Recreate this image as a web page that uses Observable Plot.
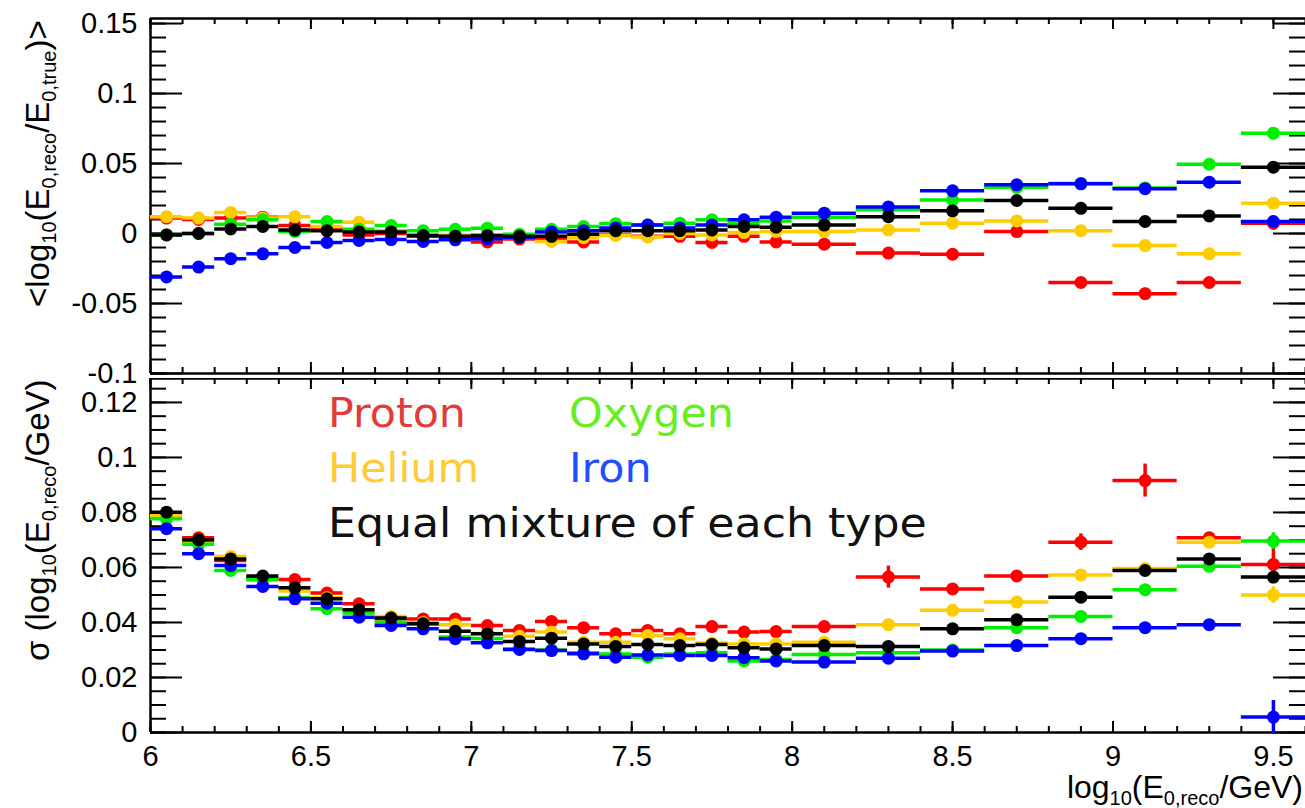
<!DOCTYPE html>
<html><head><meta charset="utf-8">
<script src="https://cdn.jsdelivr.net/npm/d3@7"></script>
<script src="https://cdn.jsdelivr.net/npm/@observablehq/plot@0.6"></script>
<style>
html,body{margin:0;padding:0;background:#fff;overflow:hidden}
#wrap{position:relative;width:1305px;height:808px;font-family:"Liberation Sans",Arial,sans-serif;color:#000}
.abs{position:absolute}
.rot{position:absolute;transform:rotate(-90deg);transform-origin:left top;white-space:nowrap;font-size:33px;line-height:1;font-family:"Liberation Sans",Arial,sans-serif}
.sub{font-size:20px;vertical-align:-7px;line-height:0}
.leg{position:absolute;font-family:"DejaVu Sans",sans-serif;font-size:40px;line-height:1;white-space:nowrap;transform-origin:left top}
.xl{position:absolute;right:2px;top:771px;font-size:32px;line-height:1;white-space:nowrap}
</style></head><body><div id="wrap"></div><script>
// ---- data ----
const binCenters = [6.05,6.15,6.25,6.35,6.45,6.55,6.65,6.75,6.85,6.95,7.05,7.15,7.25,7.35,7.45,7.55,7.65,7.75,7.85,7.95,8.1,8.3,8.5,8.7,8.9,9.1,9.3,9.5];
const binHalfWidths = [0.05,0.05,0.05,0.05,0.05,0.05,0.05,0.05,0.05,0.05,0.05,0.05,0.05,0.05,0.05,0.05,0.05,0.05,0.05,0.05,0.1,0.1,0.1,0.1,0.1,0.1,0.1,0.1];
const seriesNames = ["Proton","Helium","Oxygen","Iron","Mixture"];
const seriesColors = ["#ff0000","#ffcc00","#00ee00","#0000ff","#000000"];

const biasProton  = [0.011,0.010,0.011,0.0117,0.0057,0.004,-0.001,0.0,-0.002,-0.003,-0.006,-0.004,-0.004,-0.006,-0.001,-0.002,-0.002,-0.0064,-0.002,-0.006,-0.0076,-0.014,-0.0148,0.0014,-0.035,-0.043,-0.035,0.0074];
const biasHelium  = [0.012,0.011,0.015,0.011,0.012,0.005,0.008,0.002,-0.001,-0.001,-0.001,-0.003,-0.0057,-0.003,-0.0014,-0.0024,0.0,-0.001,0.0007,0.0014,0.0014,0.0026,0.0074,0.009,0.002,-0.0086,-0.0145,0.0217];
const biasOxygen  = [-0.001,0.0,0.0067,0.0098,0.0014,0.0086,0.003,0.0057,0.002,0.003,0.0038,-0.0005,0.003,0.005,0.007,0.006,0.0074,0.0098,0.0074,0.009,0.0117,0.017,0.024,0.033,0.0358,0.0325,0.0495,0.0717];
const biasIron    = [-0.031,-0.024,-0.018,-0.0145,-0.010,-0.0064,-0.005,-0.0043,-0.0057,-0.0045,-0.0038,-0.003,0.001,0.002,0.004,0.006,0.004,0.006,0.0098,0.0117,0.0145,0.019,0.0305,0.0348,0.0355,0.032,0.0367,0.0086];
const biasMixture = [-0.001,0.0,0.0033,0.005,0.0026,0.002,0.001,0.001,-0.0014,-0.002,-0.0014,-0.002,-0.002,-0.0005,0.002,0.002,0.002,0.0026,0.005,0.0045,0.006,0.012,0.0162,0.0236,0.018,0.0086,0.0126,0.0474];

const sigmaProton  = [0.0795,0.0708,0.0625,0.056,0.0556,0.0507,0.0468,0.0414,0.0413,0.0413,0.0389,0.0371,0.0404,0.0381,0.0359,0.0371,0.0359,0.0385,0.0365,0.0367,0.0385,0.0565,0.0522,0.0569,0.0692,0.0916,0.0708,0.0611];
const sigmaHelium  = [0.0789,0.0686,0.064,0.0555,0.0514,0.049,0.0445,0.0422,0.040,0.0392,0.036,0.035,0.0365,0.0328,0.0328,0.0353,0.0341,0.0325,0.0322,0.0322,0.0328,0.0392,0.0444,0.0474,0.0573,0.0596,0.0692,0.050];
const sigmaOxygen  = [0.0777,0.0684,0.0589,0.0555,0.049,0.045,0.0434,0.0401,0.0395,0.0347,0.0342,0.0304,0.030,0.029,0.0285,0.0274,0.0285,0.029,0.026,0.0265,0.0284,0.029,0.030,0.0381,0.0422,0.0519,0.0604,0.0696];
const sigmaIron    = [0.0741,0.065,0.0607,0.0531,0.0486,0.047,0.0419,0.0389,0.0377,0.0341,0.0326,0.0302,0.0298,0.0286,0.0274,0.0282,0.028,0.028,0.0272,0.026,0.0256,0.027,0.0296,0.0316,0.0341,0.0381,0.0392,0.0056];
const sigmaMixture = [0.0801,0.070,0.0631,0.0569,0.0526,0.0486,0.0446,0.0416,0.0395,0.0368,0.0359,0.0331,0.0343,0.0322,0.0313,0.032,0.0316,0.032,0.0308,0.0304,0.0316,0.0313,0.0377,0.041,0.0492,0.0589,0.0631,0.0565];

// visible error bars: panel, series index, bin centre, half-size
const errPanel  = ["bias","bias","sigma","sigma","sigma","sigma","sigma","sigma","sigma","sigma","sigma","sigma"];
const errSeries = [0,0,0,0,0,0,0,0,2,1,3,4];
const errCenter = [9.1,9.5,8.3,8.5,8.9,9.1,9.3,9.5,9.5,9.5,9.5,9.5];
const errSize   = [0.004,0.005,0.004,0.0015,0.003,0.006,0.002,0.006,0.003,0.003,0.006,0.002];

const biasTicks = [-0.1,-0.05,0,0.05,0.1,0.15];
const sigmaTicks = [0,0.02,0.04,0.06,0.08,0.1,0.12];
const xTicks = [6,6.5,7,7.5,8,8.5,9,9.5];

// ---- drawing ----
const W = 1305, ML = 150, MR = 0;
const innerW = W - ML - MR;
const xDomain = [6, 9.6];

function panel(opt) {
  const innerH = opt.height - opt.marginTop - opt.marginBottom;
  const marks = [];
  const yMinor = d3.range(opt.minor[0], opt.minor[1] + 1e-9, opt.minor[2]).map(v => +v.toFixed(4));
  const xMinor = d3.range(6, 9.6 + 1e-9, 0.1).map(v => +v.toFixed(2));
  marks.push(Plot.ruleY(opt.yDomain, {stroke: "black", strokeWidth: 2.5}));
  marks.push(Plot.ruleX([6], {stroke: "black", strokeWidth: 2.5}));
  marks.push(Plot.tickY(yMinor, {y: d => d, insetRight: innerW - 16, stroke: "black", strokeWidth: 2}));
  marks.push(Plot.tickY(opt.yTicks, {y: d => d, insetRight: innerW - 32, stroke: "black", strokeWidth: 2}));
  marks.push(Plot.tickY(yMinor, {y: d => d, insetLeft: innerW - 16, stroke: "black", strokeWidth: 2}));
  marks.push(Plot.tickY(opt.yTicks, {y: d => d, insetLeft: innerW - 32, stroke: "black", strokeWidth: 2}));
  marks.push(Plot.tickX(xMinor, {x: d => d, insetTop: innerH - 6, stroke: "black", strokeWidth: 2}));
  marks.push(Plot.tickX(xTicks, {x: d => d, insetTop: innerH - 11, stroke: "black", strokeWidth: 2}));
  marks.push(Plot.tickX(xMinor, {x: d => d, insetBottom: innerH - 6, stroke: "black", strokeWidth: 2}));
  marks.push(Plot.tickX(xTicks, {x: d => d, insetBottom: innerH - 11, stroke: "black", strokeWidth: 2}));
  opt.values.forEach((vals, i) => {
    const color = seriesColors[i];
    const rows = binCenters.map((c, j) => ({x: c, x1: c - binHalfWidths[j], x2: c + binHalfWidths[j], y: vals[j]}));
    const errs = [];
    errPanel.forEach((p, k) => {
      if (p === opt.name && errSeries[k] === i) {
        const j = binCenters.indexOf(errCenter[k]);
        errs.push({x: errCenter[k], y1: vals[j] - errSize[k], y2: vals[j] + errSize[k]});
      }
    });
    marks.push(Plot.ruleY(rows, {x1: "x1", x2: "x2", y: "y", stroke: color, strokeWidth: 3.5}));
    marks.push(Plot.ruleX(errs, {x: "x", y1: "y1", y2: "y2", stroke: color, strokeWidth: 3.5}));
    marks.push(Plot.dot(rows, {x: "x", y: "y", r: 6.5, fill: color}));
  });
  return Plot.plot({
    width: W, height: opt.height,
    marginLeft: ML, marginRight: MR, marginTop: opt.marginTop, marginBottom: opt.marginBottom,
    x: opt.showX
      ? {domain: xDomain, ticks: xTicks, tickSize: 0, tickPadding: 13, tickFormat: d => String(d), label: null}
      : {domain: xDomain, axis: null},
    y: {domain: opt.yDomain, ticks: opt.yTicks, tickSize: 0, tickPadding: 13, tickFormat: d => String(d), label: null},
    style: {fontSize: "29px", fontFamily: "'Liberation Sans', Arial, sans-serif", color: "black", background: "transparent", overflow: opt.overflow},
    marks
  });
}

const wrap = document.getElementById("wrap");

const botPlot = panel({name: "sigma", height: 430, marginTop: 0, marginBottom: 76, yDomain: [0, 0.1287], yTicks: sigmaTicks,
  minor: [0, 0.125, 0.005], values: [sigmaProton, sigmaHelium, sigmaOxygen, sigmaIron, sigmaMixture], showX: true, overflow: "hidden"});
botPlot.style.position = "absolute"; botPlot.style.left = "0px"; botPlot.style.top = "378px";
wrap.appendChild(botPlot);

const topPlot = panel({name: "bias", height: 378, marginTop: 18, marginBottom: 5, yDomain: [-0.1, 0.1536], yTicks: biasTicks,
  minor: [-0.1, 0.15, 0.01], values: [biasProton, biasHelium, biasOxygen, biasIron, biasMixture], showX: false, overflow: "visible"});
topPlot.style.position = "absolute"; topPlot.style.left = "0px"; topPlot.style.top = "0px";
wrap.appendChild(topPlot);

const yl1 = document.createElement("div");
yl1.className = "rot"; yl1.style.left = "21px"; yl1.style.top = "307px";
yl1.innerHTML = '&lt;log<span class="sub">10</span>(E<span class="sub">0,reco</span>/E<span class="sub">0,true</span>)&gt;';
wrap.appendChild(yl1);

const clip = document.createElement("div");
clip.className = "abs"; clip.style.left = "0px"; clip.style.top = "381px"; clip.style.width = "140px"; clip.style.height = "427px"; clip.style.overflow = "hidden";
const yl2 = document.createElement("div");
yl2.className = "rot"; yl2.style.left = "21px"; yl2.style.top = (661 - 381) + "px";
yl2.innerHTML = 'σ (log<span class="sub">10</span>(E<span class="sub">0,reco</span>/GeV))';
clip.appendChild(yl2);
wrap.appendChild(clip);

const xl = document.createElement("div");
xl.className = "xl";
xl.innerHTML = 'log<span class="sub">10</span>(E<span class="sub">0,reco</span>/GeV)';
wrap.appendChild(xl);

const legendItems = [
  {text: "Proton", color: "#e53a3a", left: 328, top: 393, sx: 1.07},
  {text: "Oxygen", color: "#66ee22", left: 569, top: 393, sx: 1.07},
  {text: "Helium", color: "#ffcc33", left: 328, top: 448, sx: 1.07},
  {text: "Iron", color: "#1f4fff", left: 569, top: 448, sx: 1.07},
  {text: "Equal mixture of each type", color: "#111111", left: 328, top: 503, sx: 1.105}
];
legendItems.forEach(it => {
  const d = document.createElement("div");
  d.className = "leg"; d.style.left = it.left + "px"; d.style.top = it.top + "px"; d.style.color = it.color;
  d.style.transform = "scaleX(" + it.sx + ")";
  d.textContent = it.text;
  wrap.appendChild(d);
});
</script></body></html>
